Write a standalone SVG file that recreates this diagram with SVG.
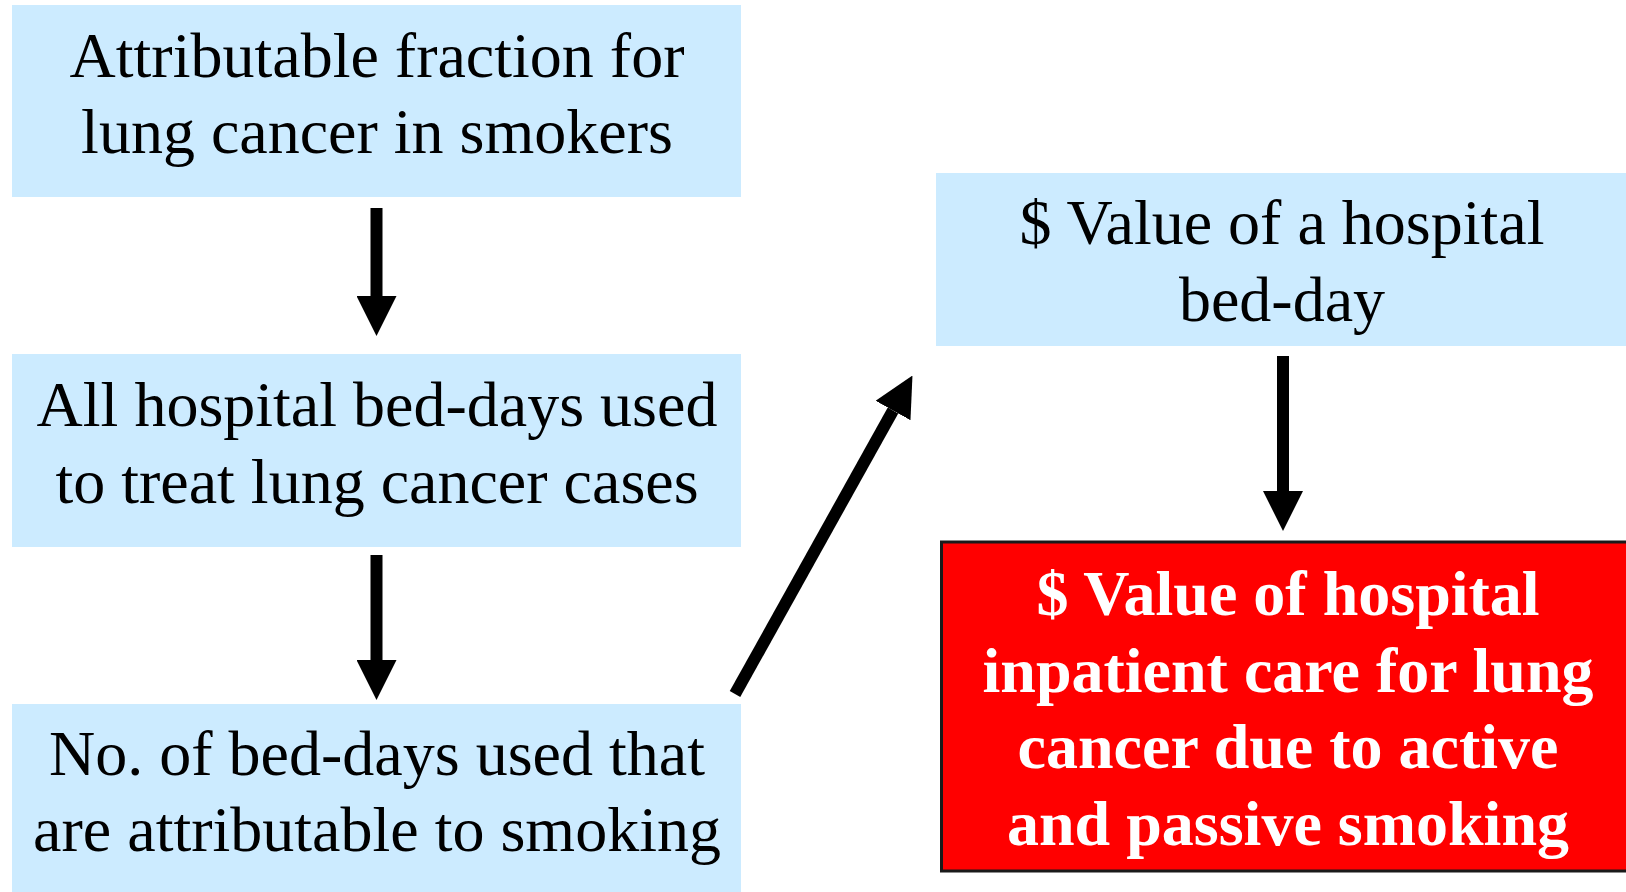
<svg xmlns="http://www.w3.org/2000/svg" width="1626" height="892" viewBox="0 0 1626 892">
<style>
.box{fill:#CCEBFF;}
.red{fill:#FF0000;stroke:#1a1a1a;stroke-width:3;}
.t{font-family:"Liberation Serif","Times New Roman",serif;font-size:64px;fill:#000;text-anchor:middle;}
.tb{font-family:"Liberation Serif","Times New Roman",serif;font-size:64px;font-weight:bold;fill:#fff;text-anchor:middle;}
.arr{stroke:#000;stroke-width:12;fill:none;marker-end:url(#ah);}
</style>
<defs>
<marker id="ah" viewBox="0 0 40 40" refX="0" refY="20" markerWidth="40" markerHeight="40" markerUnits="userSpaceOnUse" orient="auto">
<path d="M0,0 L40,20 L0,40 z" fill="#000"/>
</marker>
</defs>
<rect width="1626" height="892" fill="#fff"/>
<g id="node1">
<rect class="box" x="12" y="5" width="729" height="192"/>
<text class="t" x="377" y="77">Attributable fraction for</text>
<text class="t" x="377" y="153">lung cancer in smokers</text>
</g>
<g id="node2">
<rect class="box" x="12" y="354" width="729" height="193"/>
<text class="t" x="377" y="426">All hospital bed-days used</text>
<text class="t" x="377" y="503">to treat lung cancer cases</text>
</g>
<g id="node3">
<rect class="box" x="12" y="704" width="729" height="188"/>
<text class="t" x="377" y="775">No. of bed-days used that</text>
<text class="t" x="377" y="851">are attributable to smoking</text>
</g>
<g id="node4">
<rect class="box" x="936" y="173" width="690" height="173"/>
<text class="t" x="1282" y="244">$ Value of a hospital</text>
<text class="t" x="1282" y="321">bed-day</text>
</g>
<g id="node5">
<rect class="red" x="941.5" y="542" width="700" height="329"/>
<text class="tb" x="1288" y="615">$ Value of hospital</text>
<text class="tb" x="1288" y="692">inpatient care for lung</text>
<text class="tb" x="1288" y="768">cancer due to active</text>
<text class="tb" x="1288" y="845">and passive smoking</text>
</g>
<g id="connectors">
<line class="arr" x1="376.5" y1="208" x2="376.5" y2="296"/>
<line class="arr" x1="376.5" y1="555" x2="376.5" y2="660"/>
<line class="arr" x1="735" y1="694" x2="893" y2="410.5"/>
<line class="arr" x1="1283" y1="356" x2="1283" y2="491"/>
</g>
</svg>
